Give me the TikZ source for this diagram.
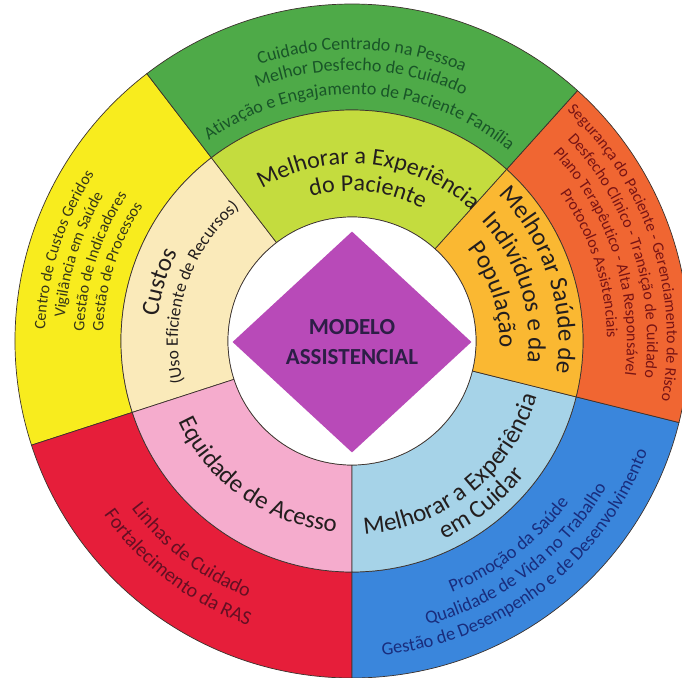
\documentclass[tikz,border=0pt]{standalone}
\usepackage{fontspec}
\setmainfont{Carlito}
\usetikzlibrary{decorations.text,shapes.geometric}

\definecolor{outYellow}{RGB}{248,236,30}
\definecolor{outGreen}{RGB}{78,170,72}
\definecolor{outOrange}{RGB}{240,102,50}
\definecolor{outBlue}{RGB}{58,134,220}
\definecolor{outRed}{RGB}{230,30,58}
\definecolor{midCream}{RGB}{250,234,186}
\definecolor{midLime}{RGB}{196,220,62}
\definecolor{midOrange}{RGB}{250,184,50}
\definecolor{midBlue}{RGB}{166,211,232}
\definecolor{midPink}{RGB}{245,172,205}
\definecolor{modelo}{RGB}{184,74,184}
\definecolor{modeloText}{RGB}{45,30,70}
\definecolor{edge}{RGB}{60,50,45}
\definecolor{txtGreen}{RGB}{25,85,40}
\definecolor{txtOrange}{RGB}{120,20,20}
\definecolor{txtYellow}{RGB}{55,55,25}
\definecolor{txtRed}{RGB}{100,15,35}
\definecolor{txtBlue}{RGB}{25,45,125}
\definecolor{txtMid}{RGB}{35,30,30}

\newcommand{\gtxt}{\fontsize{18}{22}\selectfont\color{txtGreen}}
\newcommand{\otxt}{\fontsize{16}{20}\selectfont\color{txtOrange}}
\newcommand{\ytxt}{\fontsize{16}{20}\selectfont\color{txtYellow}}
\newcommand{\rtxt}{\fontsize{20}{24}\selectfont\color{txtRed}}
\newcommand{\btxt}{\fontsize{18.5}{22}\selectfont\color{txtBlue}}
\newcommand{\mtxt}{\fontsize{25}{30}\selectfont\color{txtMid}}
\newcommand{\ltxt}{\fontsize{24}{29}\selectfont\color{txtMid}}
\newcommand{\stxt}{\fontsize{17.5}{21}\selectfont\color{txtMid}}

\newcommand{\toparc}[4]{\path[decorate,decoration={text along path,text align=center,text={|#3|#4}}]
  (#2+80:#1) arc[start angle=#2+80,end angle=#2-80,radius=#1];}
\newcommand{\botarc}[4]{\path[decorate,decoration={text along path,text align=center,text={|#3|#4}}]
  (#2-80:#1) arc[start angle=#2-80,end angle=#2+80,radius=#1];}

\begin{document}
\begin{tikzpicture}[x=1pt,y=1pt,
  seg/.style={draw=edge,line width=0.7pt}]
  \useasboundingbox (-352,-336) rectangle (330,341);
  \foreach \a/\b/\col in {127.5/198/outYellow,198/270/outRed,270/346/outBlue,346/408/outOrange,48/127.5/outGreen}
    \filldraw[seg,fill=\col] (\a:231) arc[start angle=\a,end angle=\b,radius=231]
      -- (\b:337) arc[start angle=\b,end angle=\a,radius=337] -- cycle;
  \foreach \a/\b/\col in {127.5/198/midCream,198/270/midPink,270/346/midBlue,346/408/midOrange,48/127.5/midLime}
    \filldraw[seg,fill=\col] (\a:124) arc[start angle=\a,end angle=\b,radius=124]
      -- (\b:231) arc[start angle=\b,end angle=\a,radius=231] -- cycle;
  \node[circle,seg,fill=white,minimum size=248pt,inner sep=0pt] (hub) at (0,0) {};
  \node[diamond,fill=modelo,minimum width=239pt,minimum height=221pt,inner sep=0pt,
    align=center,text=modeloText,font=\bfseries\fontsize{23}{30}\selectfont] (core) at (0,-1) {MODELO\\ASSISTENCIAL};

  \toparc{291.5}{88}{\gtxt}{Cuidado Centrado na Pessoa}
  \toparc{270.5}{88}{\gtxt}{Melhor Desfecho de Cuidado}
  \toparc{246.5}{88}{\gtxt}{Ativação e Engajamento de Paciente Família}

  \toparc{315}{18}{\otxt}{Segurança do Paciente - Gerenciamento de Risco}
  \toparc{295}{18}{\otxt}{Desfecho Clínico - Transição de Cuidado}
  \toparc{275}{18}{\otxt}{Plano Terapêutico - Alta Responsável}
  \toparc{255}{18}{\otxt}{Protocolos Assistenciais}

  \toparc{307}{162.5}{\ytxt}{Centro de Custos Geridos}
  \toparc{288}{162.5}{\ytxt}{Vigilância em Saúde}
  \toparc{268}{162.5}{\ytxt}{Gestão de Indicadores}
  \toparc{249}{162.5}{\ytxt}{Gestão de Processos}

  \botarc{277}{232.5}{\rtxt}{Linhas de Cuidado}
  \botarc{303}{232.5}{\rtxt}{Fortalecimento da RAS}

  \botarc{270.5}{-52.5}{\btxt}{Promoção da Saúde}
  \botarc{293.5}{-52.5}{\btxt}{Qualidade de Vida no Trabalho}
  \botarc{315.5}{-52.5}{\btxt}{Gestão de Desempenho e de Desenvolvimento}

  \toparc{177}{84}{\ltxt}{Melhorar a Experiência}
  \toparc{150}{84}{\ltxt}{do Paciente}

  \toparc{195.5}{163}{\mtxt}{Custos}
  \toparc{174}{162}{\stxt}{(Uso Eficiente de Recursos)}

  \toparc{206.5}{18}{\mtxt}{Melhorar Saúde de}
  \toparc{176.5}{18}{\mtxt}{Indivíduos e da}
  \toparc{147.5}{18}{\mtxt}{População}

  \botarc{191.5}{235}{\mtxt}{Equidade de Acesso}

  \botarc{193.5}{-51.5}{\mtxt}{Melhorar a Experiência}
  \botarc{218.5}{-51.5}{\mtxt}{em Cuidar}
\end{tikzpicture}
\end{document}
